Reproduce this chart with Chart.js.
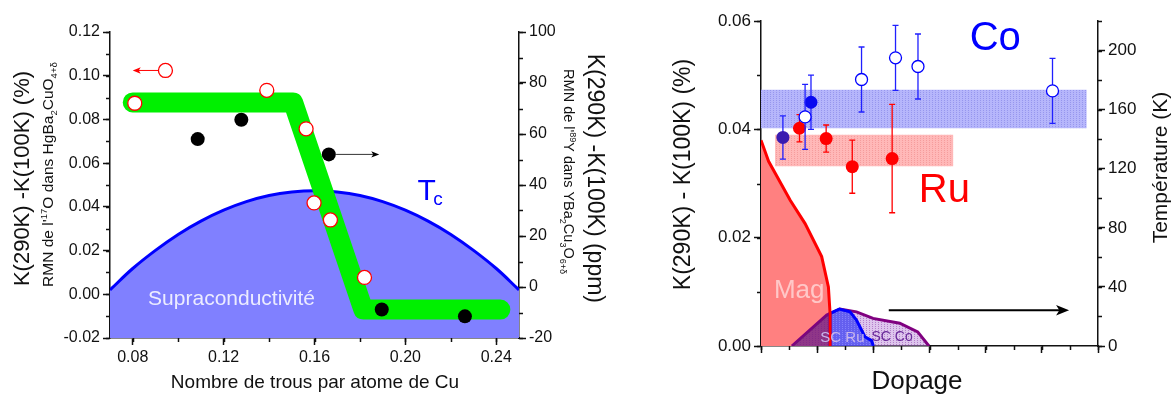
<!DOCTYPE html>
<html>
<head>
<meta charset="utf-8">
<script src="https://cdn.jsdelivr.net/npm/chart.js@4.4.1/dist/chart.umd.min.js"></script>
<style>
  html, body { margin: 0; padding: 0; background: #fff; }
  #wrap { position: relative; width: 1174px; height: 394px; }
  canvas { position: absolute; top: 0; }
  #left { left: 0; }
  #right { left: 620px; }
</style>
</head>
<body>
<div id="wrap">
  <canvas id="left" width="620" height="394"></canvas>
  <canvas id="right" width="554" height="394"></canvas>
</div>
<script>
// ---------- left panel : shift vs hole doping ----------
const hgP = [0.0809, 0.139, 0.1563, 0.1598, 0.167, 0.182];      // HgBa2CuO4 (17O), left axis %
const hgK = [0.0874, 0.0933, 0.0757, 0.0418, 0.034, 0.0077];
const hgKeyP = [0.0944];                                         // axis marker circle
const hgKeyK = [0.1024];
const ybcoP = [0.1086, 0.1278, 0.1663, 0.1896, 0.2262];          // YBCO (89Y), right axis ppm
const ybcoK = [58, 65.6, 52, -8.8, -11.5];
const guideP = [0.080, 0.1506, 0.1815, 0.2418];                  // green guide band
const guideK = [0.0878, 0.0878, -0.007, -0.007];
const tcP = [0.07, 0.08, 0.09, 0.10, 0.11, 0.12, 0.13, 0.14, 0.15, 0.16,
             0.17, 0.18, 0.19, 0.20, 0.21, 0.22, 0.23, 0.24, 0.25];
const tcY = [0.0020, 0.0118, 0.0201, 0.0274, 0.0335, 0.0385, 0.0424, 0.0452, 0.0468, 0.0474,
             0.0468, 0.0452, 0.0424, 0.0385, 0.0335, 0.0274, 0.0201, 0.0118, 0.0020];
const xTicksL = [0.08, 0.12, 0.16, 0.20, 0.24];
const yTicksL = [-0.02, 0.00, 0.02, 0.04, 0.06, 0.08, 0.10, 0.12];
const y2TicksL = [-20, 0, 20, 40, 60, 80, 100];

// ---------- right panel : Ru / Co doping ----------
const coOpenX = [1.57, 3.58, 4.79, 5.59, 10.38];
const coOpenK = [0.0423, 0.0492, 0.0532, 0.0516, 0.0471];
const coOpenErr = [0.0060, 0.0060, 0.0060, 0.0060, 0.0060];
const coFullX = [0.78, 1.78];
const coFullK = [0.0385, 0.0450];
const coFullErr = [0.0040, 0.0050];
const ruX = [1.37, 2.32, 3.25, 4.67];
const ruK = [0.0402, 0.0383, 0.0331, 0.0346];
const ruErr = [0.0025, 0.0025, 0.0049, 0.0100];
const coBandX = [0, 11.6];
const coBandK = [0.0402, 0.0473];   // bottom, top
const ruBandX = [0.5, 6.85];
const ruBandK = [0.0332, 0.0390];
const magX = [0, 0.27, 1.04, 1.57, 2.16, 2.40, 2.46, 2.46];
const magK = [0.038, 0.0341, 0.0269, 0.0226, 0.0165, 0.0109, 0.006, 0];
const scCoX = [1.10, 2.34, 2.81, 3.40, 3.99, 4.94, 5.58, 5.98];
const scCoK = [0, 0.0057, 0.0068, 0.0063, 0.0051, 0.0042, 0.0026, 0];
const scCoMagX = [1.10, 2.34, 2.46, 2.46];     // part of SC Co lying inside Mag
const scCoMagK = [0, 0.0057, 0.0060, 0];
const scRuX = [2.46, 2.46, 2.79, 3.17, 3.40, 3.70, 3.94, 4.00];
const scRuK = [0, 0.0060, 0.0068, 0.0063, 0.0048, 0.0017, 0.0010, 0];
const xTicksR = [0, 2, 4, 6, 8, 10, 12];
const yTicksR = [0, 0.02, 0.04, 0.06];
const y2TicksR = [0, 40, 80, 120, 160, 200];

const FONT = '"Liberation Sans", Arial, Helvetica, sans-serif';
const INK = '#111';

const pts = (xs, ys) => xs.map((x, i) => ({ x: x, y: ys[i] }));

function dots(base, dot) {
    const c = document.createElement('canvas');
    c.width = 3; c.height = 2;
    const g = c.getContext('2d');
    g.fillStyle = base; g.fillRect(0, 0, 3, 2);
    g.fillStyle = dot; g.fillRect(0, 0, 1, 1);
    return g.createPattern(c, 'repeat');
}

function drawRich(ctx, t) {
    ctx.save();
    ctx.translate(t.x, t.y);
    ctx.rotate((t.rot || 0) * Math.PI / 180);
    ctx.fillStyle = t.color || INK;
    ctx.textBaseline = 'alphabetic';
    ctx.textAlign = 'left';
    const segs = t.segs.map(s => Array.isArray(s) ? s : [s, 1, 0]);
    let w = 0;
    segs.forEach(s => { ctx.font = (t.size * s[1]) + 'px ' + FONT; w += ctx.measureText(s[0]).width; });
    let x = t.align === 'left' ? 0 : -w / 2;
    segs.forEach(s => {
        ctx.font = (t.size * s[1]) + 'px ' + FONT;
        ctx.fillText(s[0], x, s[2] * t.size);
        x += ctx.measureText(s[0]).width;
    });
    ctx.restore();
}

// small ticks between the labelled ones
const minorTicks = {
    id: 'minorTicks',
    afterDraw(chart, args, opts) {
        const ctx = chart.ctx;
        ctx.save();
        ctx.strokeStyle = INK;
        ctx.lineWidth = 1.5;
        Object.keys(opts.steps || {}).forEach(id => {
            const s = chart.scales[id], step = opts.steps[id];
            for (let k = Math.ceil(s.min / step - 1e-6); k * step <= s.max + 1e-9; k++) {
                const p = Math.round(s.getPixelForValue(k * step)) + 0.5;
                ctx.beginPath();
                if (s.position === 'left') { ctx.moveTo(s.right, p); ctx.lineTo(s.right - opts.len, p); }
                else if (s.position === 'right') { ctx.moveTo(s.left, p); ctx.lineTo(s.left + opts.len, p); }
                else { ctx.moveTo(p, s.top); ctx.lineTo(p, s.top + opts.len); }
                ctx.stroke();
            }
        });
        ctx.restore();
    }
};

// error bars drawn right before their own points
const errorBars = {
    id: 'errorBars',
    beforeDatasetDraw(chart, args) {
        const ds = chart.data.datasets[args.index];
        if (!ds.errors) return;
        const meta = args.meta, ys = chart.scales[meta.yAxisID], ctx = chart.ctx;
        ctx.save();
        ctx.strokeStyle = ds.errorColor;
        ctx.lineWidth = 1.3;
        ds.data.forEach((d, i) => {
            const x = meta.data[i].x;
            const top = ys.getPixelForValue(d.y + ds.errors[i]);
            const bot = ys.getPixelForValue(d.y - ds.errors[i]);
            ctx.beginPath();
            ctx.moveTo(x, top); ctx.lineTo(x, bot);
            ctx.moveTo(x - 3, top); ctx.lineTo(x + 3, top);
            ctx.moveTo(x - 3, bot); ctx.lineTo(x + 3, bot);
            ctx.stroke();
        });
        ctx.restore();
    }
};

// arrows and in-plot labels, placed in data coordinates
const notes = {
    id: 'notes',
    afterDatasetsDraw(chart, args, opts) {
        const ctx = chart.ctx, xs = chart.scales.x;
        (opts.arrows || []).forEach(a => {
            const ys = chart.scales[a.axis || 'y'];
            const x0 = xs.getPixelForValue(a.x[0]), x1 = xs.getPixelForValue(a.x[1]);
            const y = ys.getPixelForValue(a.y);
            const dir = Math.sign(x1 - x0);
            ctx.save();
            ctx.strokeStyle = a.color; ctx.fillStyle = a.headColor || a.color;
            ctx.lineWidth = a.width;
            ctx.beginPath(); ctx.moveTo(x0, y); ctx.lineTo(x1 - dir * a.head * 0.6, y); ctx.stroke();
            ctx.beginPath();
            ctx.moveTo(x1, y);
            ctx.lineTo(x1 - dir * a.head, y - a.head * 0.4);
            ctx.lineTo(x1 - dir * a.head * 0.75, y);
            ctx.lineTo(x1 - dir * a.head, y + a.head * 0.4);
            ctx.closePath(); ctx.fill();
            ctx.restore();
        });
        (opts.labels || []).forEach(l => {
            const ys = chart.scales[l.axis || 'y'];
            drawRich(ctx, { segs: [l.text], x: xs.getPixelForValue(l.x), y: ys.getPixelForValue(l.y),
                            size: l.size, color: l.color, align: l.align });
        });
    },
    afterDraw(chart, args, opts) {
        (opts.titles || []).forEach(t => drawRich(chart.ctx, t));
    }
};

function axis(pos, min, max, tickVals, fmt, fitSize, tickFont) {
    return {
        type: 'linear', position: pos, min: min, max: max,
        afterBuildTicks: s => { s.ticks = tickVals.map(v => ({ value: v })); },
        afterFit: s => { if (pos === 'bottom') s.height = fitSize; else s.width = fitSize; },
        ticks: { callback: fmt, autoSkip: false, maxRotation: 0, padding: 3, color: INK,
                 font: { family: FONT, size: tickFont } },
        grid: { drawOnChartArea: false, drawTicks: true, tickLength: 7, tickWidth: 1.5, tickColor: INK },
        border: { display: true, color: INK, width: 1.5 }
    };
}

const common = {
    responsive: false,
    animation: false,
    events: [],
    plugins: { legend: { display: false }, tooltip: { enabled: false } }
};

// ---------------- left chart ----------------
new Chart(document.getElementById('left'), {
    type: 'line',
    plugins: [minorTicks, errorBars, notes],
    data: {
        datasets: [
            { data: pts(tcP, tcY), borderColor: '#0000ff', borderWidth: 3, backgroundColor: '#8080ff',
              fill: { value: -0.02 }, pointRadius: 0, tension: 0.4, order: 5 },
            { data: pts(guideP, guideK), borderColor: '#00f000', borderWidth: 20, borderCapStyle: 'round',
              borderJoinStyle: 'round', pointRadius: 0, fill: false, order: 4 },
            { data: pts(hgP, hgK), showLine: false, pointRadius: 7, pointBorderWidth: 1.3,
              pointBorderColor: '#ff0000', pointBackgroundColor: '#fff', order: 2 },
            { data: pts(hgKeyP, hgKeyK), showLine: false, pointRadius: 7, pointBorderWidth: 1.3,
              pointBorderColor: '#ff0000', pointBackgroundColor: '#fff', order: 2 },
            { data: pts(ybcoP, ybcoK), yAxisID: 'y2', showLine: false, pointRadius: 7, pointBorderWidth: 0,
              pointBackgroundColor: '#000', pointBorderColor: '#000', order: 1 }
        ]
    },
    options: Object.assign({}, common, {
        layout: { padding: { top: 32 } },
        scales: {
            x: axis('bottom', 0.07, 0.25, xTicksL, v => v.toFixed(2), 56, 16),
            y: axis('left', -0.02, 0.12, yTicksL, v => v.toFixed(2), 110, 16),
            y2: axis('right', -20, 100, y2TicksL, v => String(v), 101, 16)
        },
        plugins: Object.assign({}, common.plugins, {
            minorTicks: { steps: { x: 0.02, y: 0.01, y2: 10 }, len: 4 },
            notes: {
                arrows: [
                    { x: [0.0913, 0.0800], y: 0.1024, axis: 'y', color: '#ff0000', width: 1, head: 8 },
                    { x: [0.1695, 0.1885], y: 52, axis: 'y2', color: '#333', headColor: '#000', width: 1, head: 8 }
                ],
                labels: [
                    { text: 'Supraconductivité', x: 0.1235, y: -0.0051, size: 21, color: '#ececff' },
                    { text: 'T', x: 0.2053, y: 0.0430, size: 30, color: '#0000ff', align: 'left' },
                    { text: 'c', x: 0.2123, y: 0.0408, size: 19, color: '#0000ff', align: 'left' }
                ],
                titles: [
                    { segs: ['K(290K) -K(100K) (%)'], x: 28.5, y: 178.5, rot: -90, size: 22 },
                    { segs: ["RMN de l'", ['17', 0.62, -0.42], 'O dans HgBa', ['2', 0.62, 0.25], 'CuO', ['4+δ', 0.62, 0.25]],
                      x: 53.3, y: 174.5, rot: -90, size: 15.5 },
                    { segs: ['K(290K) -K(100K) (ppm)'], x: 588.3, y: 178.4, rot: 90, size: 23 },
                    { segs: ["RMN de l'", ['89', 0.62, -0.42], 'Y dans YBa', ['2', 0.62, 0.25], 'Cu', ['3', 0.62, 0.25], 'O', ['6+δ', 0.62, 0.25]],
                      x: 563.5, y: 171.5, rot: 90, size: 14.5 },
                    { segs: ['Nombre de trous par atome de Cu'], x: 315, y: 388, size: 19 }
                ]
            }
        })
    })
});

// ---------------- right chart ----------------
new Chart(document.getElementById('right'), {
    type: 'line',
    plugins: [minorTicks, errorBars, notes],
    data: {
        datasets: [
            { data: coBandX.map(x => ({ x: x, y: coBandK[1] })), fill: { value: coBandK[0] },
              backgroundColor: dots('#b6b6fb', '#9696ee'), borderWidth: 0, pointRadius: 0, order: 12 },
            { data: ruBandX.map(x => ({ x: x, y: ruBandK[1] })), fill: { value: ruBandK[0] },
              backgroundColor: dots('#ffb8b8', '#f59c9c'), borderWidth: 0, pointRadius: 0, order: 11 },
            // Mag: fill first, its red edge drawn later on top of the SC areas
            { data: pts(magX, magK), fill: 'origin', backgroundColor: '#ff8080', borderWidth: 0,
              pointRadius: 0, tension: 0, order: 10 },
            { data: pts(scCoX, scCoK), fill: 'origin', backgroundColor: dots('rgba(190,140,220,0.5)', 'rgba(140,60,170,0.5)'),
              borderColor: '#800080', borderWidth: 3, pointRadius: 0, tension: 0, order: 9 },
            { data: pts(scCoMagX, scCoMagK), fill: 'origin', backgroundColor: 'rgba(110,20,120,0.7)',
              borderWidth: 0, pointRadius: 0, tension: 0, order: 8 },
            { data: pts(scRuX, scRuK), fill: 'origin', backgroundColor: dots('rgba(70,70,240,0.8)', 'rgba(140,140,255,0.8)'),
              borderColor: '#0000ff', borderWidth: 3, pointRadius: 0, tension: 0, order: 7 },
            { data: pts(magX, magK), fill: false, borderColor: '#ff0000', borderWidth: 3,
              pointRadius: 0, tension: 0, order: 6 },
            { data: pts(ruX, ruK), errors: ruErr, errorColor: '#ff0000', showLine: false, pointRadius: 6.5,
              pointBorderWidth: 0, pointBackgroundColor: '#ff0000', order: 3 },
            { data: pts(coFullX, coFullK), errors: coFullErr, errorColor: '#2020ff', showLine: false, pointRadius: 6.5,
              pointBorderWidth: 0, pointBackgroundColor: ['#3a1cb0', '#0a0af0'], order: 2 },
            { data: pts(coOpenX, coOpenK), errors: coOpenErr, errorColor: '#2020ff', showLine: false, pointRadius: 6,
              pointBorderWidth: 1.3, pointBorderColor: '#0000ff', pointBackgroundColor: '#fff', order: 1 }
        ]
    },
    options: Object.assign({}, common, {
        layout: { padding: { top: 21 } },
        scales: {
            x: axis('bottom', 0, 12, xTicksR, () => '', 48, 17),
            y: axis('left', 0, 0.06, yTicksR, v => v.toFixed(2), 141, 17),
            y2: axis('right', 0, 220, y2TicksR, v => String(v), 76, 17)
        },
        plugins: Object.assign({}, common.plugins, {
            minorTicks: { steps: { x: 1, y: 0.01, y2: 20 }, len: 4 },
            notes: {
                arrows: [
                    { x: [4.55, 10.97], y: 0.0066, axis: 'y', color: '#000', width: 2, head: 13 }
                ],
                labels: [
                    { text: 'Co', x: 8.34, y: 0.0546, size: 40, color: '#0000ff' },
                    { text: 'Ru', x: 6.53, y: 0.0266, size: 40, color: '#ff0000' },
                    { text: 'Mag', x: 1.36, y: 0.0088, size: 26, color: '#ffc8c8' },
                    { text: 'SC Ru', x: 2.90, y: 0.0008, size: 15, color: '#c9b6ec' },
                    { text: 'SC Co', x: 4.67, y: 0.0009, size: 14, color: '#6a2a9a' }
                ],
                titles: [
                    { segs: ['K(290K) - K(100K) (%)'], x: 70, y: 174.5, rot: -90, size: 23 },
                    { segs: ['Température (K)'], x: 547, y: 167.5, rot: -90, size: 21 },
                    { segs: ['Dopage'], x: 297, y: 389, size: 26 }
                ]
            }
        })
    })
});
</script>
</body>
</html>
